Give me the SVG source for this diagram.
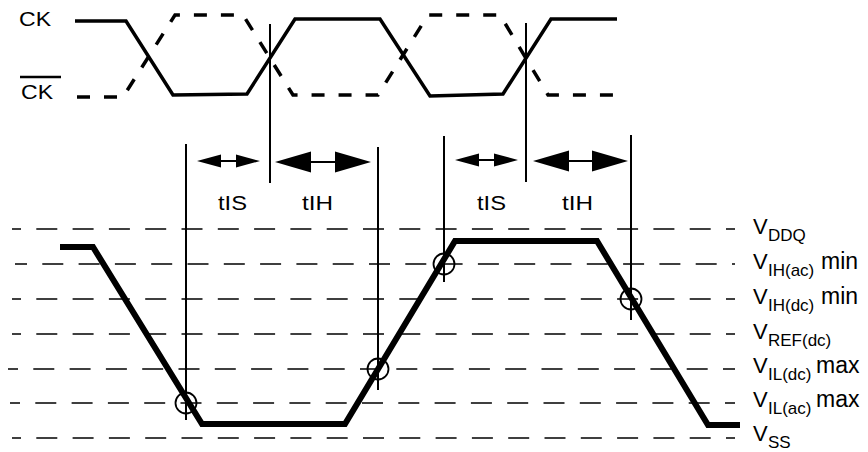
<svg xmlns="http://www.w3.org/2000/svg" width="868" height="452" viewBox="0 0 868 452">
<defs>
<style>
.lbl{font-family:"Liberation Sans",Arial,sans-serif;font-size:20px;fill:#000}
.v{font-family:"Liberation Sans",Arial,sans-serif;font-size:22px;fill:#000}
.mm{font-family:"Liberation Sans",Arial,sans-serif;font-size:23px;fill:#000}
.sub{font-family:"Liberation Sans",Arial,sans-serif;font-size:17px;fill:#000}
.ref{stroke:#000;stroke-width:1.6;stroke-dasharray:21 15.3;fill:none}
.clk{stroke:#000;stroke-width:3.5;fill:none;stroke-linejoin:miter}
.vline{stroke:#000;stroke-width:2;fill:none}
.shaft{stroke:#000;stroke-width:2}
.ring{stroke:#000;stroke-width:1.8;fill:none}
</style>
</defs>
<rect width="868" height="452" fill="#fff"/>

<g id="reference-levels">
<line class="ref" x1="12" y1="229" x2="735" y2="229" stroke-dashoffset="12"/>
<line class="ref" x1="15" y1="264" x2="735" y2="264" stroke-dashoffset="9"/>
<line class="ref" x1="12" y1="299" x2="735" y2="299" stroke-dashoffset="12"/>
<line class="ref" x1="12" y1="334" x2="735" y2="334" stroke-dashoffset="12"/>
<line class="ref" x1="8" y1="369" x2="735" y2="369" stroke-dashoffset="11"/>
<line class="ref" x1="10" y1="403" x2="735" y2="403" stroke-dashoffset="11"/>
<line class="ref" x1="12" y1="438" x2="735" y2="438" stroke-dashoffset="12"/>
</g>

<g id="clock-CK">
<text class="lbl" x="19" y="26" textLength="32" lengthAdjust="spacingAndGlyphs">CK</text>
<path class="clk" d="M75,21 L126,21 L173,95 L247,94 L295,19 L380,19 L430,96 L503,94 L551,19 L617,19"/>
</g>

<g id="clock-CKbar">
<text class="lbl" x="21" y="99" textLength="32" lengthAdjust="spacingAndGlyphs">CK</text>
<line x1="20" y1="77" x2="61" y2="77" stroke="#000" stroke-width="2.5"/>
<path class="clk" stroke-dasharray="13 14" d="M77,97 L123,97 L175,15 L243,15 L293,95 L378,95 L428,15 L500,15 L548,95 L613,95"/>
</g>

<g id="connectors">
<line class="vline" x1="270" y1="24" x2="270" y2="183"/>
<line class="vline" x1="526" y1="23" x2="526" y2="182"/>
<line class="vline" x1="186" y1="144" x2="186" y2="420"/>
<line class="vline" x1="378" y1="147" x2="378" y2="390"/>
<line class="vline" x1="444" y1="136" x2="444" y2="282"/>
<line class="vline" x1="631" y1="135" x2="631" y2="320"/>

<line class="shaft" x1="215" y1="161" x2="242" y2="161"/>
<polygon points="197,161 221,154.5 221,167.5"/>
<polygon points="260,161 236,154.5 236,167.5"/>

<line class="shaft" x1="300" y1="162" x2="345" y2="162"/>
<polygon points="275,162 311,151.5 311,172.5"/>
<polygon points="371,162 335,151.5 335,172.5"/>

<line class="shaft" x1="472" y1="160" x2="500" y2="160"/>
<polygon points="455,160 479,153.5 479,166.5"/>
<polygon points="518,160 494,153.5 494,166.5"/>

<line class="shaft" x1="558" y1="161" x2="603" y2="161"/>
<polygon points="533,161 569,150.5 569,171.5"/>
<polygon points="628,161 592,150.5 592,171.5"/>
</g>

<g id="timing-labels">
<text class="lbl" x="218" y="210" textLength="29" lengthAdjust="spacingAndGlyphs">tIS</text>
<text class="lbl" x="302" y="210" textLength="31" lengthAdjust="spacingAndGlyphs">tIH</text>
<text class="lbl" x="477" y="210" textLength="29" lengthAdjust="spacingAndGlyphs">tIS</text>
<text class="lbl" x="562" y="210" textLength="31" lengthAdjust="spacingAndGlyphs">tIH</text>
</g>

<g id="input-signal">
<path d="M60,247 L93,247 L202,424 L345,424 L455,241 L597,241 L708,425 L740,425" fill="none" stroke="#000" stroke-width="6" stroke-linejoin="miter"/>
<circle class="ring" cx="186" cy="403" r="10.5"/>
<circle class="ring" cx="378" cy="369" r="10.5"/>
<circle class="ring" cx="444" cy="264" r="10.5"/>
<circle class="ring" cx="631" cy="299" r="10.5"/>
</g>

<g id="level-labels">
<text class="v" x="753" y="234">V</text><text class="sub" x="768" y="241">DDQ</text>
<text class="v" x="753" y="269">V</text><text class="sub" x="768" y="276">IH(ac)</text>
<text class="mm" x="821" y="269">min</text>
<text class="v" x="753" y="304">V</text><text class="sub" x="768" y="311">IH(dc)</text>
<text class="mm" x="821" y="304">min</text>
<text class="v" x="753" y="339">V</text><text class="sub" x="768" y="346">REF(dc)</text>
<text class="v" x="753" y="373">V</text><text class="sub" x="768" y="380">IL(dc)</text>
<text class="mm" x="816" y="373">max</text>
<text class="v" x="753" y="407">V</text><text class="sub" x="768" y="414">IL(ac)</text>
<text class="mm" x="816" y="407">max</text>
<text class="v" x="753" y="441">V</text><text class="sub" x="768" y="448">SS</text>
</g>
</svg>
